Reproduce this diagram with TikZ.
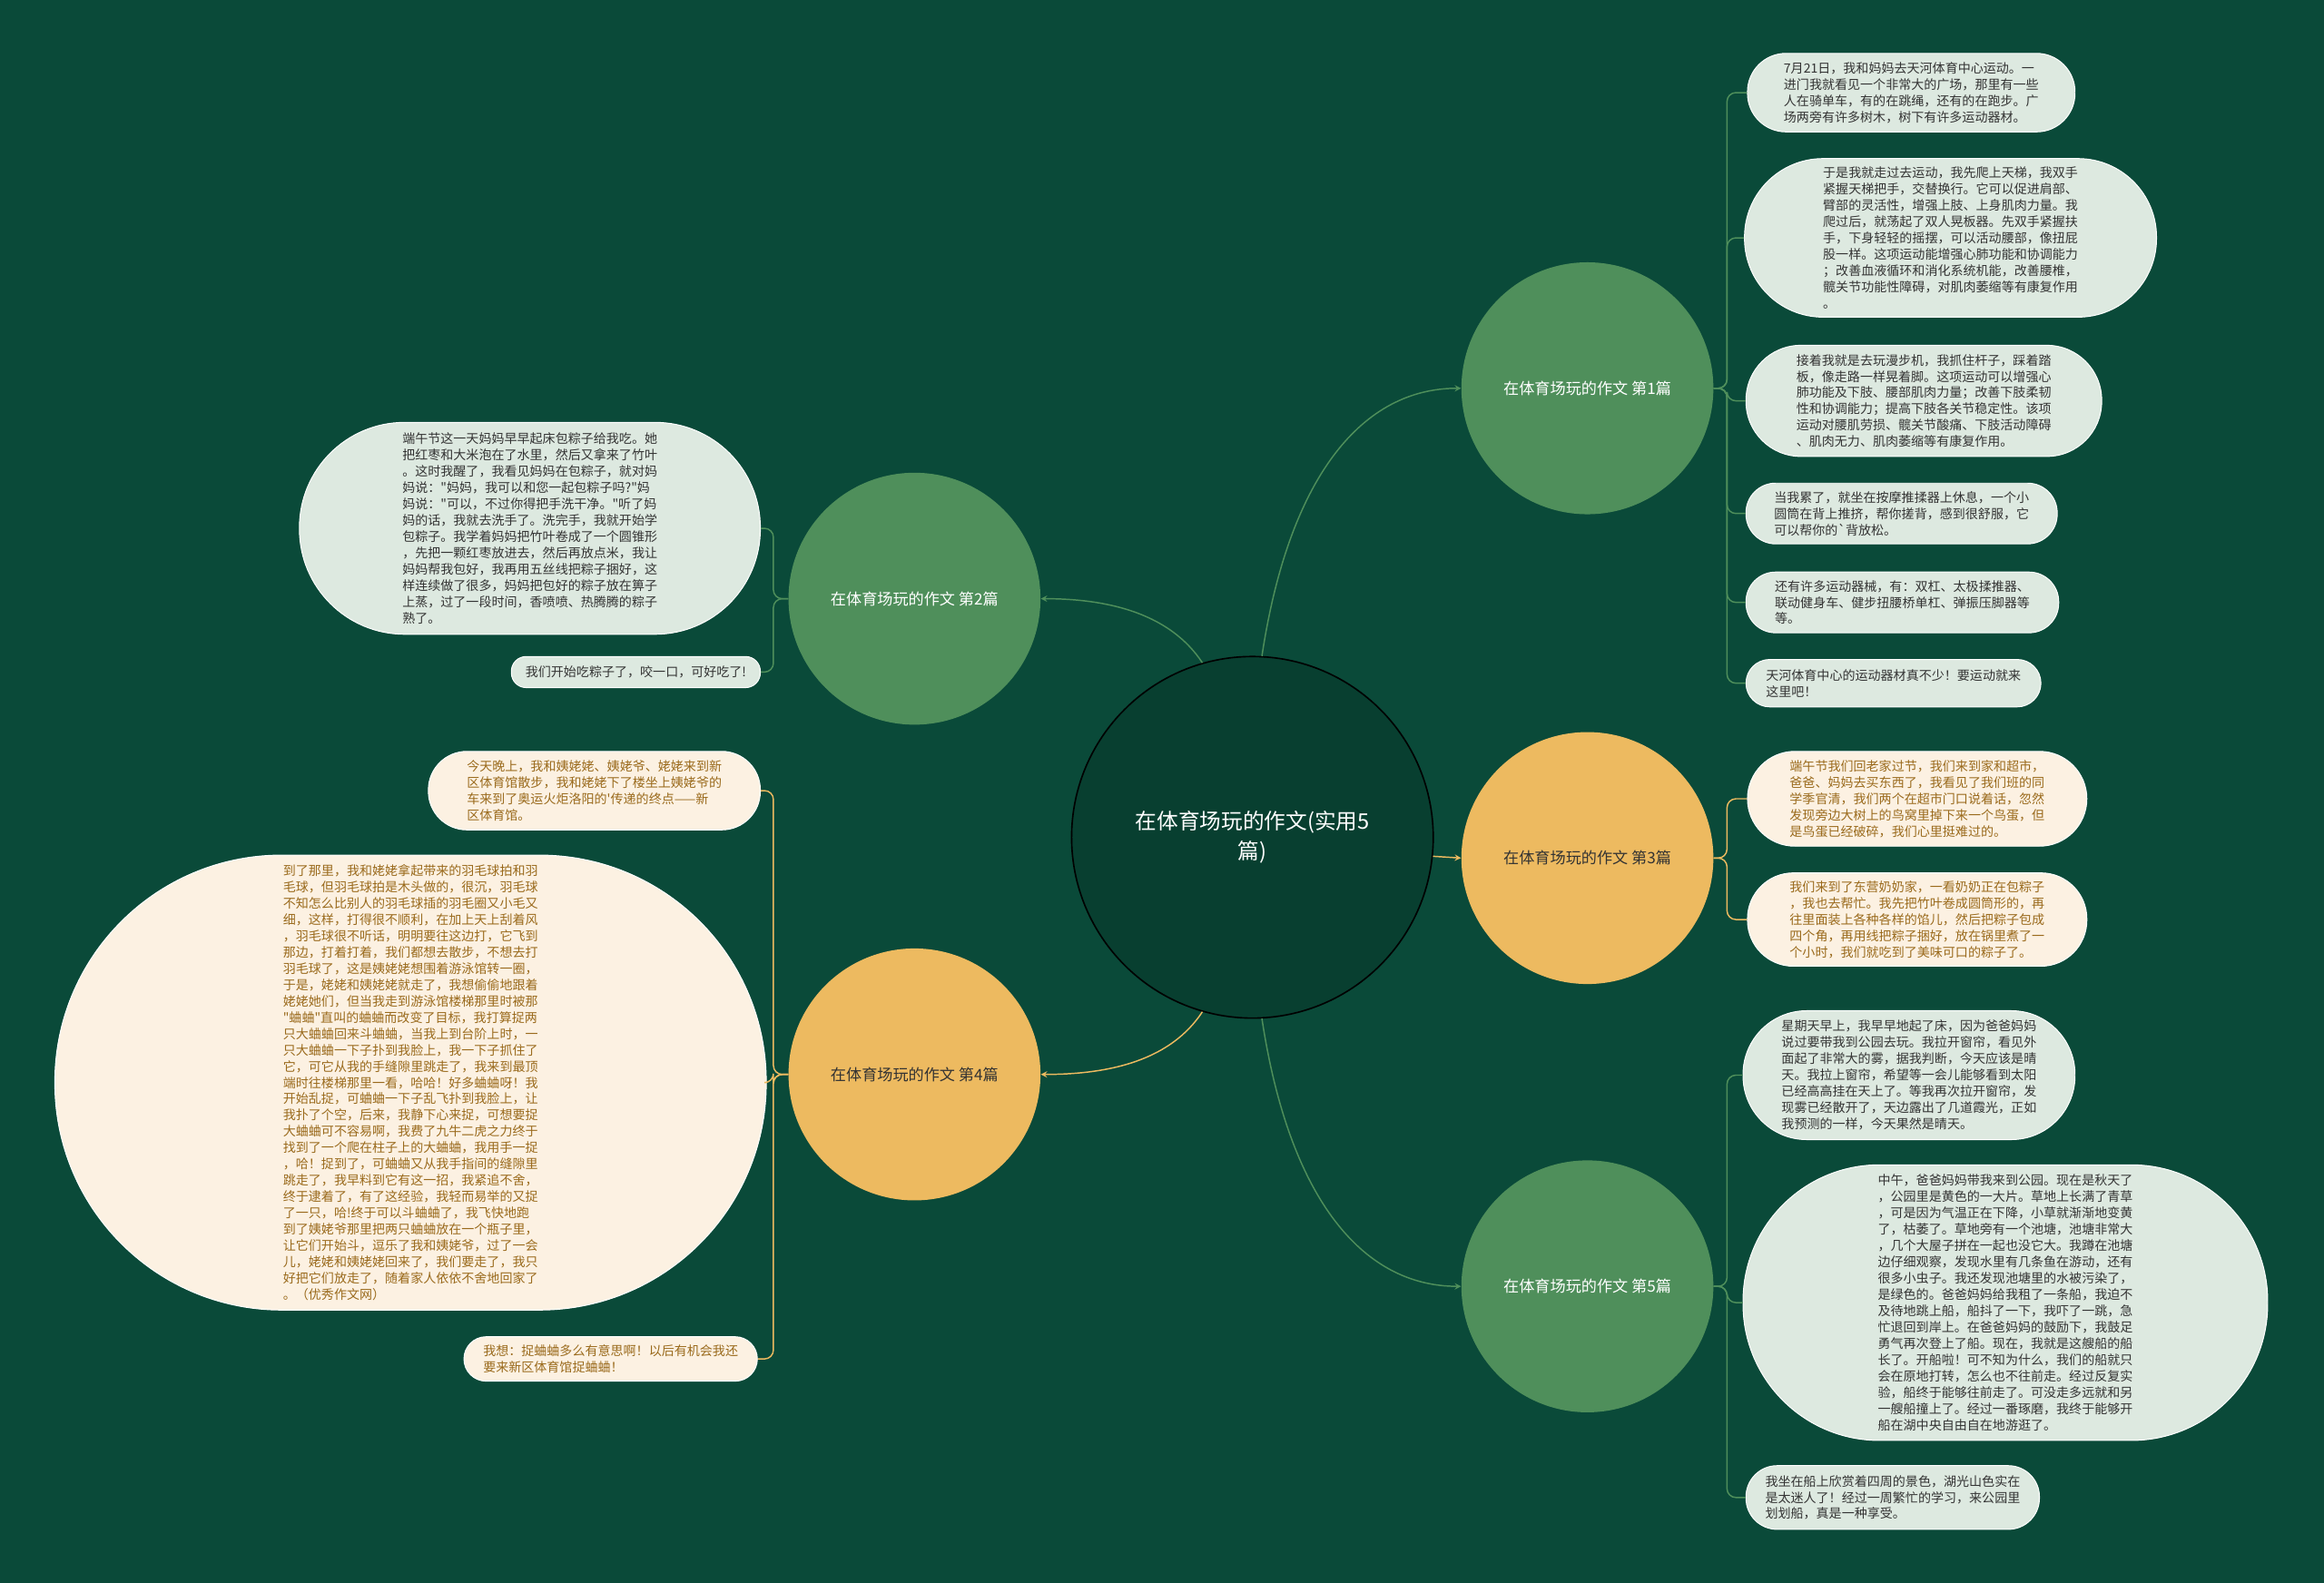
\documentclass[tikz,border=0pt]{standalone}
\usepackage{fontspec}
\usepackage{xcolor}
\usetikzlibrary{arrows}
\newfontfamily\cjk{Noto Sans CJK SC}
\definecolor{bgcol}{HTML}{0A4A39}
\definecolor{rootcol}{HTML}{083F30}
\definecolor{topgreen}{HTML}{4F8F5B}
\definecolor{toporange}{HTML}{EDBA60}
\definecolor{leafgreen}{HTML}{DDE9E0}
\definecolor{leafcream}{HTML}{FCF1E2}
\definecolor{browntext}{HTML}{9A6A1C}
\definecolor{darktext}{HTML}{333333}

\begin{document}
\begin{tikzpicture}[x=1pt,y=-1pt,
    rootnode/.style={circle,draw=black,line width=1pt,fill=rootcol,minimum size=244pt,inner sep=0pt,text=white,align=center,font=\cjk\fontsize{14.5}{20}\selectfont},
    topicg/.style={circle,fill=topgreen,minimum size=170pt,inner sep=0pt,text=white,font=\cjk\fontsize{10.5}{13}\selectfont},
    topico/.style={topicg,fill=toporange,text=darktext},
    leafg/.style={rectangle,fill=leafgreen,draw=white,line width=0.6pt,inner sep=0pt,align=left,text=darktext,font=\cjk\fontsize{8.6}{11}\selectfont},
    leafo/.style={leafg,fill=leafcream,text=browntext},
    gline/.style={draw=topgreen,line width=0.9pt,rounded corners=6pt},
    oline/.style={gline,draw=toporange}]
        \path[use as bounding box,fill=bgcol] (0,0) rectangle (1568,1068);
        % centre and the five topics
        \node[rootnode] (root) at (845,565) {在体育场玩的作文(实用5\\篇)};
        \node[topicg] (b1) at (1071,262) {在体育场玩的作文 第1篇};
        \node[topicg] (b2) at (617,404) {在体育场玩的作文 第2篇};
        \node[topico] (b3) at (1071,579) {在体育场玩的作文 第3篇};
        \node[topico] (b4) at (617,725) {在体育场玩的作文 第4篇};
        \node[topicg] (b5) at (1071,868) {在体育场玩的作文 第5篇};
        \draw[gline,-stealth] (root.87) .. controls (870,320) and (920,262) .. (b1.west);
        \draw[gline,-stealth] (root.-87) .. controls (870,810) and (920,868) .. (b5.west);
        \draw[oline,-stealth] (root.-6.6) -- (b3.west);
        \draw[gline,-stealth] (root.106) .. controls (790,415) and (750,404) .. (b2.east);
        \draw[oline,-stealth] (root.-106) .. controls (790,715) and (750,725) .. (b4.east);
        % topic 1
        \node[leafg,minimum width=221pt,minimum height=53pt,rounded corners=26pt] (l1a) at (1289.5,62.5) {7月21日，我和妈妈去天河体育中心运动。一\\进门我就看见一个非常大的广场，那里有一些\\人在骑单车，有的在跳绳，还有的在跑步。广\\场两旁有许多树木，树下有许多运动器材。};
        \node[leafg,minimum width=278pt,minimum height=107pt,rounded corners=53pt] (l1b) at (1316,160.5) {于是我就走过去运动，我先爬上天梯，我双手\\紧握天梯把手，交替换行。它可以促进肩部、\\臂部的灵活性，增强上肢、上身肌肉力量。我\\爬过后，就荡起了双人晃板器。先双手紧握扶\\手，下身轻轻的摇摆，可以活动腰部，像扭屁\\股一样。这项运动能增强心肺功能和协调能力\\；改善血液循环和消化系统机能，改善腰椎，\\髋关节功能性障碍，对肌肉萎缩等有康复作用\\。};
        \node[leafg,minimum width=240pt,minimum height=75pt,rounded corners=37pt] (l1c) at (1298,270.5) {接着我就是去玩漫步机，我抓住杆子，踩着踏\\板，像走路一样晃着脚。这项运动可以增强心\\肺功能及下肢、腰部肌肉力量；改善下肢柔韧\\性和协调能力；提高下肢各关节稳定性。该项\\运动对腰肌劳损、髋关节酸痛、下肢活动障碍\\、肌肉无力、肌肉萎缩等有康复作用。};
        \node[leafg,minimum width=210pt,minimum height=41pt,rounded corners=20pt] (l1d) at (1283,346.5) {当我累了，就坐在按摩推揉器上休息，一个小\\圆筒在背上推挤，帮你搓背，感到很舒服，它\\可以帮你的\symbol{96}背放松。};
        \node[leafg,minimum width=211pt,minimum height=41pt,rounded corners=20pt] (l1e) at (1283.5,406.5) {还有许多运动器械，有：双杠、太极揉推器、\\联动健身车、健步扭腰桥单杠、弹振压脚器等\\等。};
        \node[leafg,minimum width=199pt,minimum height=32pt,rounded corners=16pt] (l1f) at (1277.5,461) {天河体育中心的运动器材真不少！要运动就来\\这里吧！};
        \foreach \l in {l1a,l1b,l1c,l1d,l1e,l1f}
            \draw[gline] (b1.east) -- ++(9,0) |- (\l.west);
        % topic 3
        \node[leafo,minimum width=229pt,minimum height=64pt,rounded corners=32pt] (l3a) at (1293.5,539) {端午节我们回老家过节，我们来到家和超市，\\爸爸、妈妈去买东西了，我看见了我们班的同\\学季官清，我们两个在超市门口说着话，忽然\\发现旁边大树上的鸟窝里掉下来一个鸟蛋，但\\是鸟蛋已经破碎，我们心里挺难过的。};
        \node[leafo,minimum width=229pt,minimum height=63pt,rounded corners=31pt] (l3b) at (1293.5,620.5) {我们来到了东营奶奶家，一看奶奶正在包粽子\\，我也去帮忙。我先把竹叶卷成圆筒形的，再\\往里面装上各种各样的馅儿，然后把粽子包成\\四个角，再用线把粽子捆好，放在锅里煮了一\\个小时，我们就吃到了美味可口的粽子了。};
        \foreach \l in {l3a,l3b}
            \draw[oline] (b3.east) -- ++(9,0) |- (\l.west);
        % topic 5
        \node[leafg,minimum width=224pt,minimum height=87pt,rounded corners=43pt] (l5a) at (1288,725.5) {星期天早上，我早早地起了床，因为爸爸妈妈\\说过要带我到公园去玩。我拉开窗帘，看见外\\面起了非常大的雾，据我判断，今天应该是晴\\天。我拉上窗帘，希望等一会儿能够看到太阳\\已经高高挂在天上了。等我再次拉开窗帘，发\\现雾已经散开了，天边露出了几道霞光，正如\\我预测的一样，今天果然是晴天。};
        \node[leafg,minimum width=354pt,minimum height=186pt,rounded corners=92pt] (l5b) at (1353,879) {中午，爸爸妈妈带我来到公园。现在是秋天了\\，公园里是黄色的一大片。草地上长满了青草\\，可是因为气温正在下降，小草就渐渐地变黄\\了，枯萎了。草地旁有一个池塘，池塘非常大\\，几个大屋子拼在一起也没它大。我蹲在池塘\\边仔细观察，发现水里有几条鱼在游动，还有\\很多小虫子。我还发现池塘里的水被污染了，\\是绿色的。爸爸妈妈给我租了一条船，我迫不\\及待地跳上船，船抖了一下，我吓了一跳，急\\忙退回到岸上。在爸爸妈妈的鼓励下，我鼓足\\勇气再次登上了船。现在，我就是这艘船的船\\长了。开船啦！可不知为什么，我们的船就只\\会在原地打转，怎么也不往前走。经过反复实\\验，船终于能够往前走了。可没走多远就和另\\一艘船撞上了。经过一番琢磨，我终于能够开\\船在湖中央自由自在地游逛了。};
        \node[leafg,minimum width=198pt,minimum height=43pt,rounded corners=21pt] (l5c) at (1277,1010.5) {我坐在船上欣赏着四周的景色，湖光山色实在\\是太迷人了！经过一周繁忙的学习，来公园里\\划划船，真是一种享受。};
        \foreach \l in {l5a,l5b,l5c}
            \draw[gline] (b5.east) -- ++(9,0) |- (\l.west);
        % topic 2
        \node[leafg,minimum width=311pt,minimum height=143pt,rounded corners=71pt] (l2a) at (357.5,356.5) {端午节这一天妈妈早早起床包粽子给我吃。她\\把红枣和大米泡在了水里，然后又拿来了竹叶\\。这时我醒了，我看见妈妈在包粽子，就对妈\\妈说："妈妈，我可以和您一起包粽子吗?"妈\\妈说："可以，不过你得把手洗干净。"听了妈\\妈的话，我就去洗手了。洗完手，我就开始学\\包粽子。我学着妈妈把竹叶卷成了一个圆锥形\\，先把一颗红枣放进去，然后再放点米，我让\\妈妈帮我包好，我再用五丝线把粽子捆好，这\\样连续做了很多，妈妈把包好的粽子放在箅子\\上蒸，过了一段时间，香喷喷、热腾腾的粽子\\熟了。};
        \node[leafg,minimum width=168pt,minimum height=21pt,rounded corners=10pt] (l2b) at (429,453.5) {我们开始吃粽子了，咬一口，可好吃了!};
        \foreach \l in {l2a,l2b}
            \draw[gline] (b2.west) -- ++(-10,0) |- (\l.east);
        % topic 4
        \node[leafo,minimum width=224pt,minimum height=53pt,rounded corners=26pt] (l4a) at (401,533.5) {今天晚上，我和姨姥姥、姨姥爷、姥姥来到新\\区体育馆散步，我和姥姥下了楼坐上姨姥爷的\\车来到了奥运火炬洛阳的'传递的终点——新\\区体育馆。};
        \node[leafo,minimum width=480pt,minimum height=307pt,rounded corners=153pt] (l4b) at (277,730.5) {到了那里，我和姥姥拿起带来的羽毛球拍和羽\\毛球，但羽毛球拍是木头做的，很沉，羽毛球\\不知怎么比别人的羽毛球插的羽毛圈又小毛又\\细，这样，打得很不顺利，在加上天上刮着风\\，羽毛球很不听话，明明要往这边打，它飞到\\那边，打着打着，我们都想去散步，不想去打\\羽毛球了，这是姨姥姥想围着游泳馆转一圈，\\于是，姥姥和姨姥姥就走了，我想偷偷地跟着\\姥姥她们，但当我走到游泳馆楼梯那里时被那\\"蛐蛐"直叫的蛐蛐而改变了目标，我打算捉两\\只大蛐蛐回来斗蛐蛐，当我上到台阶上时，一\\只大蛐蛐一下子扑到我脸上，我一下子抓住了\\它，可它从我的手缝隙里跳走了，我来到最顶\\端时往楼梯那里一看，哈哈！好多蛐蛐呀！我\\开始乱捉，可蛐蛐一下子乱飞扑到我脸上，让\\我扑了个空，后来，我静下心来捉，可想要捉\\大蛐蛐可不容易啊，我费了九牛二虎之力终于\\找到了一个爬在柱子上的大蛐蛐，我用手一捉\\，哈！捉到了，可蛐蛐又从我手指间的缝隙里\\跳走了，我早料到它有这一招，我紧追不舍，\\终于逮着了，有了这经验，我轻而易举的又捉\\了一只，哈!终于可以斗蛐蛐了，我飞快地跑\\到了姨姥爷那里把两只蛐蛐放在一个瓶子里，\\让它们开始斗，逗乐了我和姨姥爷，过了一会\\儿，姥姥和姨姥姥回来了，我们要走了，我只\\好把它们放走了，随着家人依依不舍地回家了\\。（优秀作文网）};
        \node[leafo,minimum width=198pt,minimum height=30pt,rounded corners=15pt] (l4c) at (412,917) {我想：捉蛐蛐多么有意思啊！以后有机会我还\\要来新区体育馆捉蛐蛐！};
        \foreach \l in {l4a,l4b,l4c}
            \draw[oline] (b4.west) -- ++(-10,0) |- (\l.east);
    \end{tikzpicture}
\end{document}
